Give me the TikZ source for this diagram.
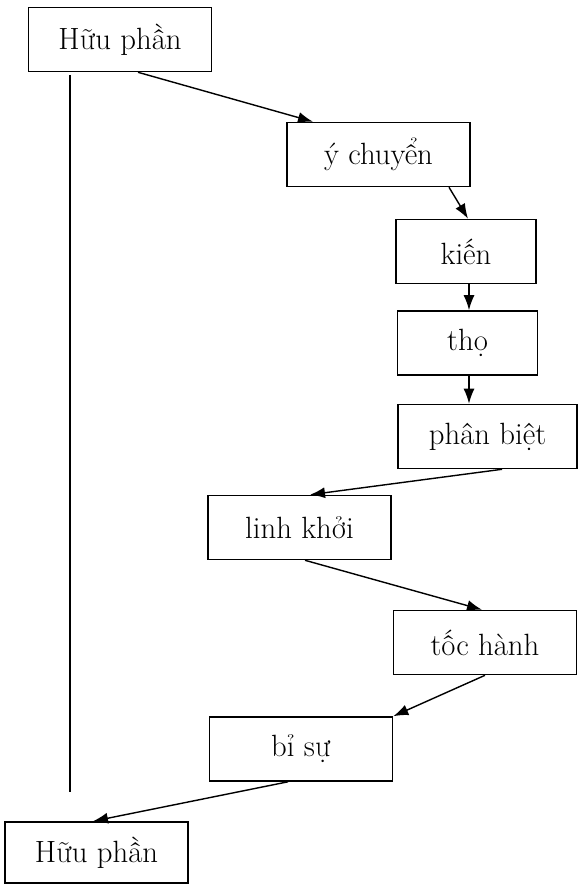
\documentclass[tikz,border=0pt]{standalone}
\usepackage{tikz}
\usetikzlibrary{arrows.meta}

\begin{document}
\begin{tikzpicture}[
    box/.style={draw, line width=0.9pt, minimum width=3.66cm, minimum height=1.28cm, inner sep=0pt, font=\fontsize{17.5}{21}\selectfont},
    narrow/.style={box, minimum width=2.8cm},
    link/.style={-{Latex[length=3mm,width=2.2mm]}, line width=0.8pt}
  ]
    \useasboundingbox (0,0) rectangle (11.58,-17.68);

    \node[box] (hp1) at (2.40,-0.79) {Hữu phần};
    \node[box] (yc) at (7.57,-3.09) {ý chuyển};
    \node[narrow] (kien) at (9.32,-5.03) {kiến};
    \node[narrow] (tho) at (9.35,-6.86) {thọ};
    \node[box, minimum width=3.58cm] (pb) at (9.75,-8.73) {phân biệt};
    \node[box] (lk) at (5.99,-10.55) {linh khởi};
    \node[box] (th) at (9.70,-12.85) {tốc hành};
    \node[box] (bs) at (6.02,-14.98) {bỉ sự};
    \node[box, minimum height=1.22cm] (hp2) at (1.93,-17.05) {Hữu phần};

    \coordinate (ltop) at (1.40,-1.50);
    \coordinate (lbot) at (1.40,-15.84);
    \draw[line width=0.9pt] (ltop) -- (lbot);

    \draw[link] ([xshift=0.36cm]hp1.south) -- ([xshift=-1.31cm]yc.north);
    \draw[link] ([xshift=1.41cm]yc.south) -- ([xshift=0.04cm]kien.north);
    \draw[link] ([xshift=0.06cm]kien.south) -- ([xshift=0.06cm]kien.south |- tho.north);
    \draw[link] ([xshift=0.03cm]tho.south) -- ([xshift=0.03cm]tho.south |- pb.north);
    \draw[link] ([xshift=0.29cm]pb.south) -- ([xshift=0.21cm]lk.north);
    \draw[link] ([xshift=0.11cm]lk.south) -- ([xshift=-0.06cm]th.north);
    \draw[link] (th.south) -- (bs.north east);
    \draw[link] ([xshift=-0.26cm]bs.south) -- ([xshift=-0.07cm]hp2.north);
\end{tikzpicture}
\end{document}
